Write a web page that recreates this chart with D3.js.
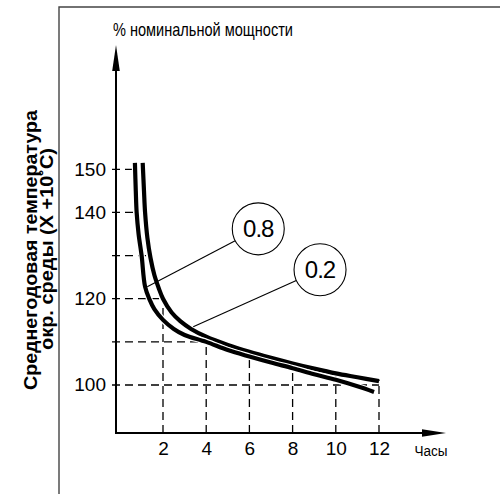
<!DOCTYPE html>
<html><head><meta charset="utf-8">
<script src="https://cdn.jsdelivr.net/npm/d3@7"></script>
<style>
html,body{margin:0;padding:0;background:#fff;}
svg{display:block;}
</style></head>
<body>
<svg id="c" width="500" height="494"></svg>
<script>
// ---- data ----
const xTicks = [2, 4, 6, 8, 10, 12];
const yTicks = [100, 120, 140, 150];
const curve02 = [[1.06,151.5],[1.12,145],[1.17,140],[1.28,134],[1.42,129.5],[1.6,125.5],[1.8,122.5],[2.0,120],[2.4,116.8],[2.8,114.8],[3.3,113.0],[4.0,111.2],[5.0,109.3],[6.0,107.7],[7.0,106.3],[8.0,105.0],[9.0,103.8],[10.0,102.7],[11.0,101.8],[12.0,100.9]];
const curve08 = [[0.70,151.5],[0.74,145],[0.78,140],[0.87,135],[1.01,130],[1.17,122.8],[1.37,119.9],[1.6,117.6],[2.0,115.1],[2.5,113.0],[3.0,111.6],[4.0,110.0],[5.0,108.1],[6.0,106.6],[7.0,105.2],[8.0,103.9],[9.0,102.5],[10.0,101.2],[11.0,99.7],[11.77,98.4]];
const hGuides = [[150,0.68],[140,0.77],[130,1.4],[120,2.0],[110,4.0],[100,12.0]];
const vGuides = [[2,120],[4,110],[6,107.4],[8,105.1],[10,102.8],[12,101.2]];
const labelNames = ["0.8", "0.2"];
const labelCenters = [[6.41,136.2],[9.27,126.7]];
const labelTargets = [[1.27,122.8],[3.40,113.5]];
const yTitle = "% номинальной мощности";
const xTitle = "Часы";
const sideTitle = ["Среднегодовая температура", "окр. среды (X +10˚C)"];

// ---- layout ----
const svg = d3.select("#c");
const x = d3.scaleLinear().domain([2, 12]).range([163, 379]);
const y = d3.scaleLinear().domain([100, 150]).range([385, 169.3]);
const axX = 116, axY = 433;
const narrow = "'Liberation Sans Narrow','Arial Narrow','Liberation Sans',Arial,sans-serif";

// frame
svg.append("path").attr("d", "M59,494 V7 H500").attr("fill","none").attr("stroke","#444").attr("stroke-width",1.4);

// dashed guides
const dash = "8,5";
svg.append("g").selectAll("line").data(hGuides).join("line")
  .attr("x1", 112).attr("x2", d => x(d[1]))
  .attr("y1", d => y(d[0])).attr("y2", d => y(d[0]))
  .attr("stroke","#000").attr("stroke-width",1.3).attr("stroke-dasharray",dash);
svg.append("g").selectAll("line").data(vGuides).join("line")
  .attr("x1", d => x(d[0])).attr("x2", d => x(d[0]))
  .attr("y1", axY).attr("y2", d => y(d[1]))
  .attr("stroke","#000").attr("stroke-width",1.3).attr("stroke-dasharray",dash);

// axes lines with arrows
svg.append("line").attr("x1",axX).attr("x2",axX).attr("y1",axY).attr("y2",62).attr("stroke","#000").attr("stroke-width",2);
svg.append("path").attr("d",`M${axX},45 L${axX-3.8},71 L${axX+3.8},71 Z`).attr("fill","#000");
svg.append("line").attr("x1",axX-1).attr("x2",430).attr("y1",axY).attr("y2",axY).attr("stroke","#000").attr("stroke-width",2);
svg.append("path").attr("d",`M446,${axY} L422,${axY-3.8} L422,${axY+3.8} Z`).attr("fill","#000");

// tick labels
const gx = svg.append("g").attr("transform",`translate(0,${axY})`)
  .call(d3.axisBottom(x).tickValues(xTicks).tickSize(0).tickPadding(8.5));
gx.select(".domain").remove();
gx.selectAll("text").attr("font-family",narrow).attr("font-size",19).attr("fill","#000");
const gy = svg.append("g").attr("transform",`translate(${axX},0)`)
  .call(d3.axisLeft(y).tickValues(yTicks).tickSize(0).tickPadding(10));
gy.select(".domain").remove();
gy.selectAll("text").attr("font-family",narrow).attr("font-size",19).attr("fill","#000").attr("dy","0.3em");

// curves
const line = d3.line().x(d => x(d[0])).y(d => y(d[1])).curve(d3.curveMonotoneY);
const line2 = d3.line().x(d => x(d[0])).y(d => y(d[1])).curve(d3.curveCatmullRom.alpha(0.5));
[curve02, curve08].forEach(c => {
  svg.append("path").attr("d", line2(c)).attr("fill","none").attr("stroke","#fff").attr("stroke-width",6.5).attr("stroke-linecap","butt");
  svg.append("path").attr("d", line2(c)).attr("fill","none").attr("stroke","#000").attr("stroke-width",4.2).attr("stroke-linecap","butt");
});

// leader labels
const R = 26;
labelNames.forEach((name, i) => {
  const cx = x(labelCenters[i][0]), cy = y(labelCenters[i][1]);
  const tx = x(labelTargets[i][0]), ty = y(labelTargets[i][1]);
  const ang = Math.atan2(ty - cy, tx - cx);
  svg.append("line").attr("x1", cx + R*Math.cos(ang)).attr("y1", cy + R*Math.sin(ang))
    .attr("x2", tx).attr("y2", ty).attr("stroke","#000").attr("stroke-width",1.1);
  svg.append("circle").attr("cx",cx).attr("cy",cy).attr("r",R).attr("fill","#fff").attr("stroke","#000").attr("stroke-width",1.1);
  svg.append("text").attr("x",cx).attr("y",cy).attr("dy","0.36em").attr("text-anchor","middle")
    .attr("font-family","'Liberation Sans',Arial,sans-serif").attr("font-size",24).attr("letter-spacing",-1)
    .text(name);
});

// titles
svg.append("text").attr("x",113).attr("y",35.5).attr("font-family",narrow).attr("font-size",19)
  .attr("textLength",180).attr("lengthAdjust","spacingAndGlyphs").text(yTitle);
svg.append("text").attr("x",431).attr("y",456).attr("text-anchor","middle").attr("font-family",narrow).attr("font-size",14)
  .attr("textLength",33).attr("lengthAdjust","spacingAndGlyphs").text(xTitle);
const side = svg.append("g").attr("transform","translate(0,250) rotate(-90)");
side.append("text").attr("x",0).attr("y",36.5).attr("text-anchor","middle").attr("font-family","'Liberation Sans',Arial,sans-serif")
  .attr("font-weight","bold").attr("font-size",17.5).attr("textLength",280).attr("lengthAdjust","spacingAndGlyphs").text(sideTitle[0]);
side.append("text").attr("x",1).attr("y",52.5).attr("text-anchor","middle").attr("font-family","'Liberation Sans',Arial,sans-serif")
  .attr("font-weight","bold").attr("font-size",17.5).attr("textLength",202).attr("lengthAdjust","spacingAndGlyphs").text(sideTitle[1]);
</script>
</body></html>
